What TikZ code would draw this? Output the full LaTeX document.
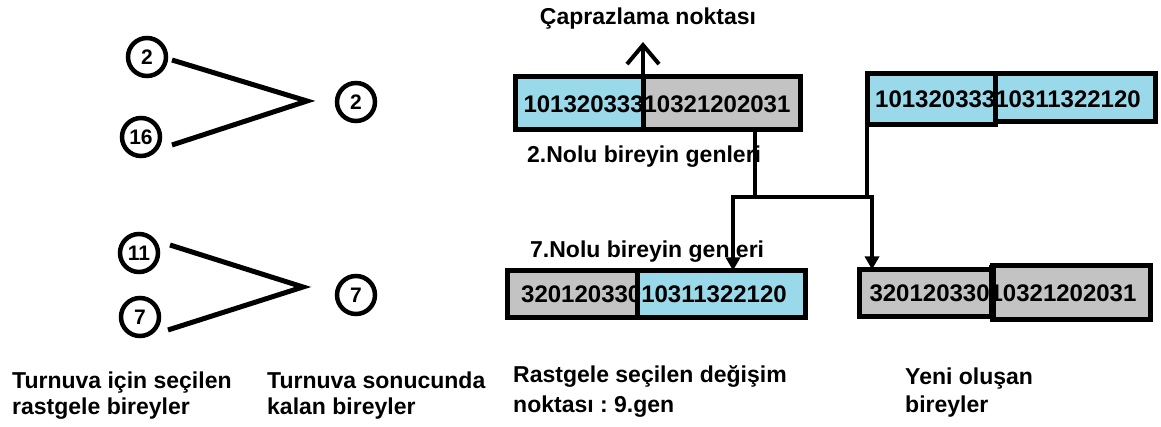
\documentclass[tikz,border=0pt]{standalone}
\usepackage{fontspec}
\setmainfont{Liberation Sans}
\usetikzlibrary{arrows.meta}
\definecolor{geneblue}{RGB}{153,217,234}
\definecolor{genegrey}{RGB}{195,195,195}
\tikzset{downtip/.tip={Triangle[length=13pt,width=14pt]}}
\frenchspacing
\begin{document}
\begin{tikzpicture}[x=1pt,y=-1pt,
  lbl/.style={font=\bfseries\fontsize{23}{28}\selectfont, inner sep=0pt, anchor=base west},
  circ/.style={circle, draw, line width=4.5pt, minimum size=38pt, inner sep=0pt, font=\bfseries\fontsize{21}{24}\selectfont},
  part/.style={rectangle, draw, line width=5pt, inner sep=0pt, outer sep=0pt},
  digits/.style={font=\bfseries\fontsize{24}{28}\selectfont, inner sep=0pt},
  vee/.style={line width=5pt},
  conn/.style={line width=4pt},
  divider/.style={line width=5pt},
]
\useasboundingbox (0,0) rectangle (1161,427);

% tournament circles
\node[circ] (c1) at (147,57) {2};
\node[circ] (c2) at (141,137) {16};
\node[circ] (c3) at (139,253) {11};
\node[circ] (c4) at (140,317) {7};
\node[circ] (r1) at (356,102) {2};
\node[circ] (r2) at (356,295) {7};

\coordinate (a1) at (172,60);
\coordinate (v1) at (307,101);
\coordinate (a2) at (172,145);
\coordinate (b1) at (170,245);
\coordinate (v2) at (303,287);
\coordinate (b2) at (168,330);
\draw[vee] (a1) -- (v1) -- (a2);
\draw[vee] (b1) -- (v2) -- (b2);

% gene boxes
\node[part, fill=geneblue, minimum width=128pt, minimum height=53pt] (g1a) at (579,103.5) {};
\node[part, fill=genegrey, minimum width=157pt, minimum height=53pt] (g1b) at (721.5,103.5) {};
\node[digits] (t1) at (657,104) {10132033310321202031};
\draw[divider] (g1a.north east) -- (g1a.south east);

\node[part, fill=geneblue, minimum width=128pt, minimum height=51pt] (g2a) at (931,99.5) {};
\node[part, fill=geneblue, minimum width=160pt, minimum height=48pt] (g2b) at (1075,98) {};
\node[digits] (t2) at (1008,99) {10132033310311322120};
\draw[divider] (g2a.north east) -- (g2a.south east);

\node[part, fill=genegrey, minimum width=130pt, minimum height=47pt] (g3a) at (572,294) {};
\node[part, fill=geneblue, minimum width=168pt, minimum height=47pt] (g3b) at (721,294) {};
\node[digits] (t3) at (654,294.5) {32012033010311322120};
\draw[divider] (g3a.north east) -- (g3a.south east);

\node[part, fill=genegrey, minimum width=133pt, minimum height=47pt] (g4a) at (925.5,293) {};
\node[part, fill=genegrey, minimum width=158pt, minimum height=54pt] (g4b) at (1071,292.5) {};
\node[digits] (t4) at (1003,293) {32012033010321202031};
\draw[line width=7pt] (g4b.north west) -- (g4b.south west);

% labels
\node[lbl, anchor=base] (lcp) at (648,25) {Çaprazlama noktası};
\node[lbl] (l2) at (527,163) {2.Nolu bireyin genleri};
\node[lbl] (l7) at (530,258) {7.Nolu bireyin genleri};
\node[lbl] (b1a) at (12,388) {Turnuva için seçilen};
\node[lbl] (b1b) at (12,414) {rastgele bireyler};
\node[lbl] (b2a) at (267,388) {Turnuva sonucunda};
\node[lbl] (b2b) at (267,414) {kalan bireyler};
\node[lbl] (b3a) at (513,382) {Rastgele seçilen değişim};
\node[lbl] (b3b) at (513,412) {noktası : 9.gen};
\node[lbl] (b4a) at (905,384) {Yeni oluşan};
\node[lbl] (b4b) at (905,412) {bireyler};

% connectors
\coordinate (cp) at (643,42);
\coordinate (j1) at (755,197);
\coordinate (jL) at (733,197);
\coordinate (jR) at (872,197);
\draw[conn, -{Straight Barb[length=19pt,width=32pt]}] (g1a.south east) -- (cp);
\draw[conn] (g1b.south -| j1) -- (j1);
\draw[conn] (g2a.south west) -- (g2a.south west |- j1);
\draw[conn, downtip-downtip] (g3b.north -| jL) -- (jL) -- (jR) -- (g4a.north -| jR);
\end{tikzpicture}
\end{document}
